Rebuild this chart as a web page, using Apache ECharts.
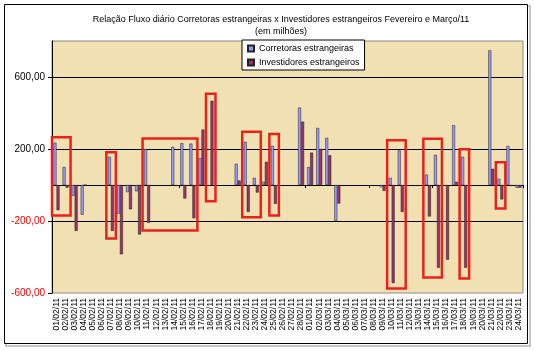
<!DOCTYPE html>
<html>
<head>
<meta charset="utf-8">
<script src="https://cdn.jsdelivr.net/npm/echarts@6/dist/echarts.min.js"></script>
<style>
  html, body { margin: 0; padding: 0; background: #fff; }
  #chart { width: 535px; height: 351px; }
</style>
</head>
<body>
<div id="chart"></div>
<script>
// dias do eixo x (eixo de datas do Excel: todos os dias do calendario)
var dates = [
  '01/02/11', '02/02/11', '03/02/11', '04/02/11', '05/02/11', '06/02/11', '07/02/11',
  '08/02/11', '09/02/11', '10/02/11', '11/02/11', '12/02/11', '13/02/11', '14/02/11',
  '15/02/11', '16/02/11', '17/02/11', '18/02/11', '19/02/11', '20/02/11', '21/02/11',
  '22/02/11', '23/02/11', '24/02/11', '25/02/11', '26/02/11', '27/02/11', '28/02/11',
  '01/03/11', '02/03/11', '03/03/11', '04/03/11', '05/03/11', '06/03/11', '07/03/11',
  '08/03/11', '09/03/11', '10/03/11', '11/03/11', '12/03/11', '13/03/11', '14/03/11',
  '15/03/11', '16/03/11', '17/03/11', '18/03/11', '19/03/11', '20/03/11', '21/03/11',
  '22/03/11', '23/03/11', '24/03/11'
]
// fluxo das corretoras estrangeiras (null = sem pregao)
var corretoras = [
  235, 100, -60, -165, null, null, 157,
  -160, -40, -35, 200, null, null, 212,
  232, 230, 150, -5, null, null, 118,
  240, 40, 18, 218, null, null, 430,
  100, 317, 262, -200, null, null, null,
  null, -12, 40, 192, null, null, 58,
  168, -5, 333, 157, null, null, 748,
  35, 217, -15
]
// fluxo dos investidores estrangeiros
var investidores = [
  -140, -15, -255, 0, null, null, -255,
  -385, -135, -275, -210, null, null, -5,
  -75, -185, 308, 468, null, null, 25,
  -150, -42, 129, -105, null, null, 352,
  180, 200, 165, -103, null, null, null,
  null, -33, -545, -150, null, null, -175,
  -460, -415, 18, -460, null, null, 90,
  -80, -5, -15
]
// marcacoes em vermelho: [dia inicial, dia final, topo, base]
var destaques = [
  ['01/02/11', '02/02/11', 265, -170],
  ['07/02/11', '07/02/11', 182, -297],
  ['11/02/11', '16/02/11', 258, -253],
  ['18/02/11', '18/02/11', 507, -90],
  ['22/02/11', '23/02/11', 296, -179],
  ['25/02/11', '25/02/11', 284, -170],
  ['10/03/11', '11/03/11', 249, -575],
  ['14/03/11', '15/03/11', 257, -514],
  ['18/03/11', '18/03/11', 199, -519],
  ['22/03/11', '22/03/11', 127, -131]
]

var chart = echarts.init(document.getElementById('chart'))

var fmt = function (v) {
  return Number(v).toFixed(2).replace('.', ',')
}

var option = {
  backgroundColor: '#fff',
  animation: false,
  textStyle: { fontFamily: 'Liberation Sans, Arial, sans-serif' },
  title: {
    text: 'Relação Fluxo diário Corretoras estrangeiras x Investidores estrangeiros Fevereiro e Março/11\n(em milhões)',
    left: 276,
    top: 9,
    textAlign: 'center',
    textStyle: { fontSize: 9, fontWeight: 'normal', color: '#000', lineHeight: 12 }
  },
  legend: {
    orient: 'vertical',
    left: 242,
    top: 40,
    backgroundColor: '#fff',
    borderColor: '#000',
    borderWidth: 1,
    padding: [4, 5, 3, 5],
    icon: 'rect',
    itemWidth: 6,
    itemHeight: 6,
    itemGap: 5,
    textStyle: { fontSize: 9, color: '#000' },
    data: ['Corretoras estrangeiras', 'Investidores estrangeiros']
  },
  grid: {
    left: 52,
    right: 12,
    top: 41,
    bottom: 58,
    show: true,
    backgroundColor: '#F1E1B2',
    borderColor: '#8a8a8a',
    borderWidth: 1
  },
  xAxis: [
    {
      // rotulos de data em baixo
      type: 'category',
      data: dates,
      axisLine: { show: false, onZero: false },
      axisTick: { show: false },
      axisLabel: { interval: 0, rotate: 90, fontSize: 8.5, color: '#000', margin: 5 }
    },
    {
      // linha do zero com os ticks
      type: 'category',
      data: dates,
      position: 'bottom',
      axisLine: { show: true, onZero: true, lineStyle: { color: '#000', width: 1 } },
      axisTick: { show: true, length: 3, lineStyle: { color: '#000' } },
      axisLabel: { show: false }
    }
  ],
  yAxis: {
    type: 'value',
    min: -600,
    max: 800,
    interval: 400,
    axisLine: { show: true, lineStyle: { color: '#000' } },
    axisTick: { show: true, length: 4, lineStyle: { color: '#000' } },
    axisLabel: {
      showMaxLabel: false,
      fontSize: 10,
      margin: 7,
      formatter: fmt,
      color: function (v) { return Number(v) < 0 ? '#FF0000' : '#000' }
    },
    splitLine: { show: true, showMinLine: false, showMaxLine: false, lineStyle: { color: '#000', width: 1 } }
  },
  series: [
    {
      name: 'Corretoras estrangeiras',
      type: 'bar',
      data: corretoras,
      barWidth: 3,
      barGap: '0%',
      itemStyle: { color: '#9999FF', borderColor: '#222', borderWidth: 0.5 }
    },
    {
      name: 'Investidores estrangeiros',
      type: 'bar',
      data: investidores,
      barWidth: 3,
      barGap: '0%',
      itemStyle: { color: '#993366', borderColor: '#222', borderWidth: 0.5 }
    },
    {
      // retangulos vermelhos de destaque
      type: 'custom',
      silent: true,
      z: 10,
      encode: { x: [0, 1], y: [2, 3] },
      data: destaques.map(function (d) {
        return [dates.indexOf(d[0]), dates.indexOf(d[1]), d[2], d[3]]
      }),
      renderItem: function (params, api) {
        var band = api.size([1, 0])[0]
        var p1 = api.coord([api.value(0), api.value(2)])
        var p2 = api.coord([api.value(1), api.value(3)])
        var x0 = p1[0] - band * 0.5
        var x1 = p2[0] + band * 0.55
        return {
          type: 'rect',
          shape: { x: x0, y: p1[1], width: x1 - x0, height: p2[1] - p1[1] },
          style: { fill: 'none', stroke: '#E8221B', lineWidth: 2.5 }
        }
      }
    }
  ],
  graphic: [
    {
      // sombra e borda externa do grafico
      type: 'rect',
      shape: { x: 6, y: 6, width: 524, height: 340 },
      style: { fill: 'none', stroke: '#c8c8c8', lineWidth: 2 },
      z: -1
    },
    {
      type: 'rect',
      shape: { x: 4.5, y: 4.5, width: 523, height: 339 },
      style: { fill: '#fff', stroke: '#000', lineWidth: 1 },
      z: -1
    }
  ]
}

chart.setOption(option)
</script>
</body>
</html>
